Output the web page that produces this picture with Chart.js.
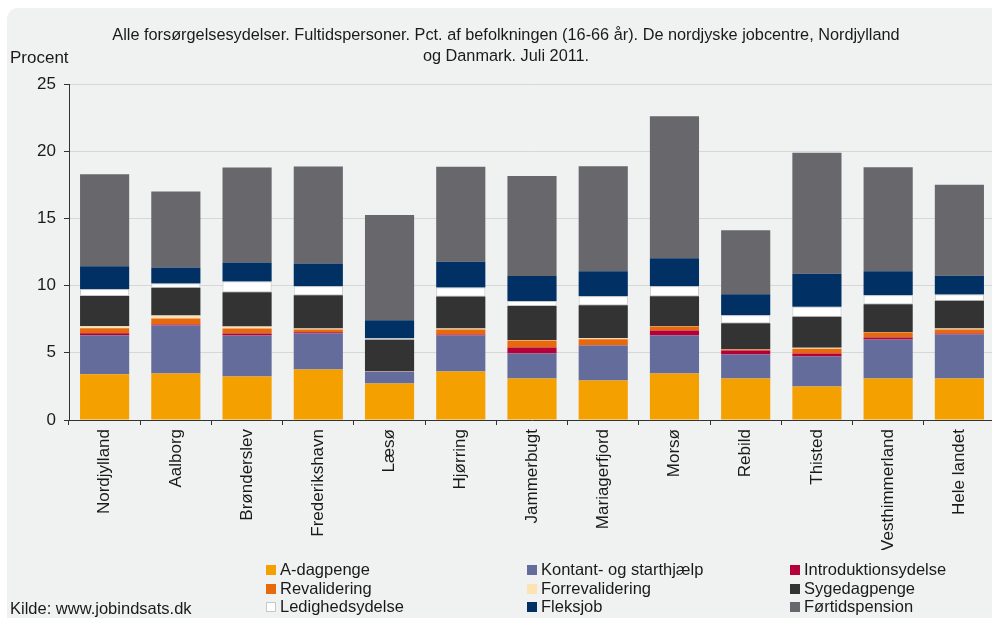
<!DOCTYPE html>
<html>
<head>
<meta charset="utf-8">
<script src="https://cdn.jsdelivr.net/npm/chart.js@4.4.1/dist/chart.umd.min.js"></script>
<style>
  html, body { margin: 0; padding: 0; background: #fff; overflow: hidden; }
  #wrap { width: 996px; height: 618px; }
</style>
</head>
<body>
<div id="wrap"><canvas id="jobChart" width="996" height="618"></canvas></div>
<script>
const categories = ["Nordjylland", "Aalborg", "Brønderslev", "Frederikshavn", "Læsø", "Hjørring", "Jammerbugt", "Mariagerfjord", "Morsø", "Rebild", "Thisted", "Vesthimmerland", "Hele landet"];

const aDagpenge       = [3.40, 3.46, 3.24, 3.76, 2.72, 3.61, 3.09, 2.94, 3.46, 3.09, 2.49, 3.09, 3.09];
const kontant         = [2.90, 3.57, 3.05, 2.68, 0.89, 2.68, 1.86, 2.60, 2.83, 1.78, 2.23, 2.90, 3.27];
const introduktion    = [0.15, 0.08, 0.15, 0.08, 0.00, 0.07, 0.45, 0.02, 0.37, 0.30, 0.22, 0.15, 0.07];
const revalidering    = [0.37, 0.45, 0.37, 0.22, 0.02, 0.37, 0.52, 0.45, 0.30, 0.07, 0.37, 0.37, 0.30];
const forrevalidering = [0.15, 0.22, 0.15, 0.07, 0.01, 0.07, 0.03, 0.07, 0.02, 0.02, 0.07, 0.02, 0.07];
const sygedagpenge    = [2.26, 2.06, 2.55, 2.48, 2.33, 2.38, 2.53, 2.46, 2.23, 1.93, 2.31, 2.08, 2.08];
const ledighed        = [0.50, 0.32, 0.79, 0.67, 0.12, 0.67, 0.37, 0.67, 0.74, 0.60, 0.74, 0.67, 0.45];
const fleksjob        = [1.71, 1.19, 1.41, 1.69, 1.34, 1.93, 1.86, 1.86, 2.08, 1.56, 2.46, 1.79, 1.41];
const fortid          = [6.85, 5.65, 7.07, 7.22, 7.82, 7.07, 7.44, 7.81, 10.57, 4.76, 9.00, 7.74, 6.77];

const yTicks = [0, 5, 10, 15, 20, 25];

const titleLines = [
    "Alle forsørgelsesydelser. Fultidspersoner. Pct. af befolkningen (16-66 år). De nordjyske jobcentre, Nordjylland",
    "og Danmark. Juli 2011."
];

const FONT = "'Liberation Sans', Arial, sans-serif";
const PANEL = "#F0F2F1";

function series(label, data, color, border) {
    return {
        label: label,
        data: data,
        backgroundColor: color,
        borderColor: border || color,
        borderWidth: border ? 1 : 0,
        borderSkipped: false,
        barPercentage: 0.69,
        categoryPercentage: 1.0
    };
}

// background panel, title, legend and source text
const decor = {
    id: "decor",
    beforeDraw(chart) {
        const ctx = chart.ctx;
        ctx.save();
        ctx.fillStyle = "#fff";
        ctx.fillRect(0, 0, chart.width, chart.height);
        ctx.fillStyle = PANEL;
        ctx.beginPath();
        ctx.roundRect(7, 8, chart.width + 20, chart.height + 20, 11);
        ctx.fill();
        ctx.restore();
    },
    afterDraw(chart) {
        const ctx = chart.ctx;
        ctx.save();
        ctx.fillStyle = "#1a1a1a";
        ctx.font = "16.3px " + FONT;
        ctx.textBaseline = "middle";
        ctx.textAlign = "center";
        ctx.fillText(titleLines[0], 506, 36);
        ctx.fillText(titleLines[1], 506, 57);

        ctx.textAlign = "left";
        ctx.font = "17px " + FONT;
        ctx.fillText("Procent", 10, 58);

        ctx.font = "16.5px " + FONT;
        ctx.fillText("Kilde: www.jobindsats.dk", 10, 609);

        const colX = [266, 527, 790];
        const rowY = [570, 589, 607];
        chart.data.datasets.forEach((ds, i) => {
            const x = colX[i % 3];
            const y = rowY[Math.floor(i / 3)];
            ctx.fillStyle = ds.backgroundColor;
            ctx.fillRect(x, y - 5, 10, 10);
            if (ds.borderWidth) {
                ctx.strokeStyle = ds.borderColor;
                ctx.lineWidth = 1;
                ctx.strokeRect(x + 0.5, y - 4.5, 9, 9);
            }
            ctx.fillStyle = "#1a1a1a";
            ctx.fillText(ds.label, x + 14, y);
        });
        ctx.restore();
    }
};

new Chart(document.getElementById("jobChart").getContext("2d"), {
    type: "bar",
    data: {
        labels: categories,
        datasets: [
            series("A-dagpenge", aDagpenge, "#F4A000"),
            series("Kontant- og starthjælp", kontant, "#646C9C"),
            series("Introduktionsydelse", introduktion, "#B5003A"),
            series("Revalidering", revalidering, "#E8690C"),
            series("Forrevalidering", forrevalidering, "#FDE2B4"),
            series("Sygedagpenge", sygedagpenge, "#333333"),
            series("Ledighedsydelse", ledighed, "#FFFFFF", "#C8C8C8"),
            series("Fleksjob", fleksjob, "#003064"),
            series("Førtidspension", fortid, "#68676C")
        ]
    },
    options: {
        responsive: false,
        animation: false,
        devicePixelRatio: 1,
        layout: { padding: { left: 0, right: 1, top: 84, bottom: 68 } },
        plugins: {
            legend: { display: false },
            title: { display: false },
            tooltip: { enabled: false }
        },
        scales: {
            x: {
                stacked: true,
                afterFit(scale) { scale.height = 130; },
                grid: {
                    drawOnChartArea: false,
                    drawTicks: true,
                    tickLength: 5,
                    tickColor: "#333",
                    offset: true
                },
                border: { color: "#333", width: 1 },
                ticks: {
                    minRotation: 90,
                    maxRotation: 90,
                    autoSkip: false,
                    padding: 4,
                    color: "#1a1a1a",
                    font: { family: FONT, size: 17 }
                }
            },
            y: {
                stacked: true,
                min: 0,
                max: 25,
                afterFit(scale) { scale.width = 69; },
                afterBuildTicks(scale) { scale.ticks = yTicks.map(v => ({ value: v })); },
                grid: {
                    color: "#D6D8D7",
                    tickColor: "#333",
                    tickLength: 5
                },
                border: { color: "#333", width: 1 },
                ticks: {
                    padding: 8,
                    color: "#1a1a1a",
                    font: { family: FONT, size: 17 }
                }
            }
        }
    },
    plugins: [decor]
});
</script>
</body>
</html>
